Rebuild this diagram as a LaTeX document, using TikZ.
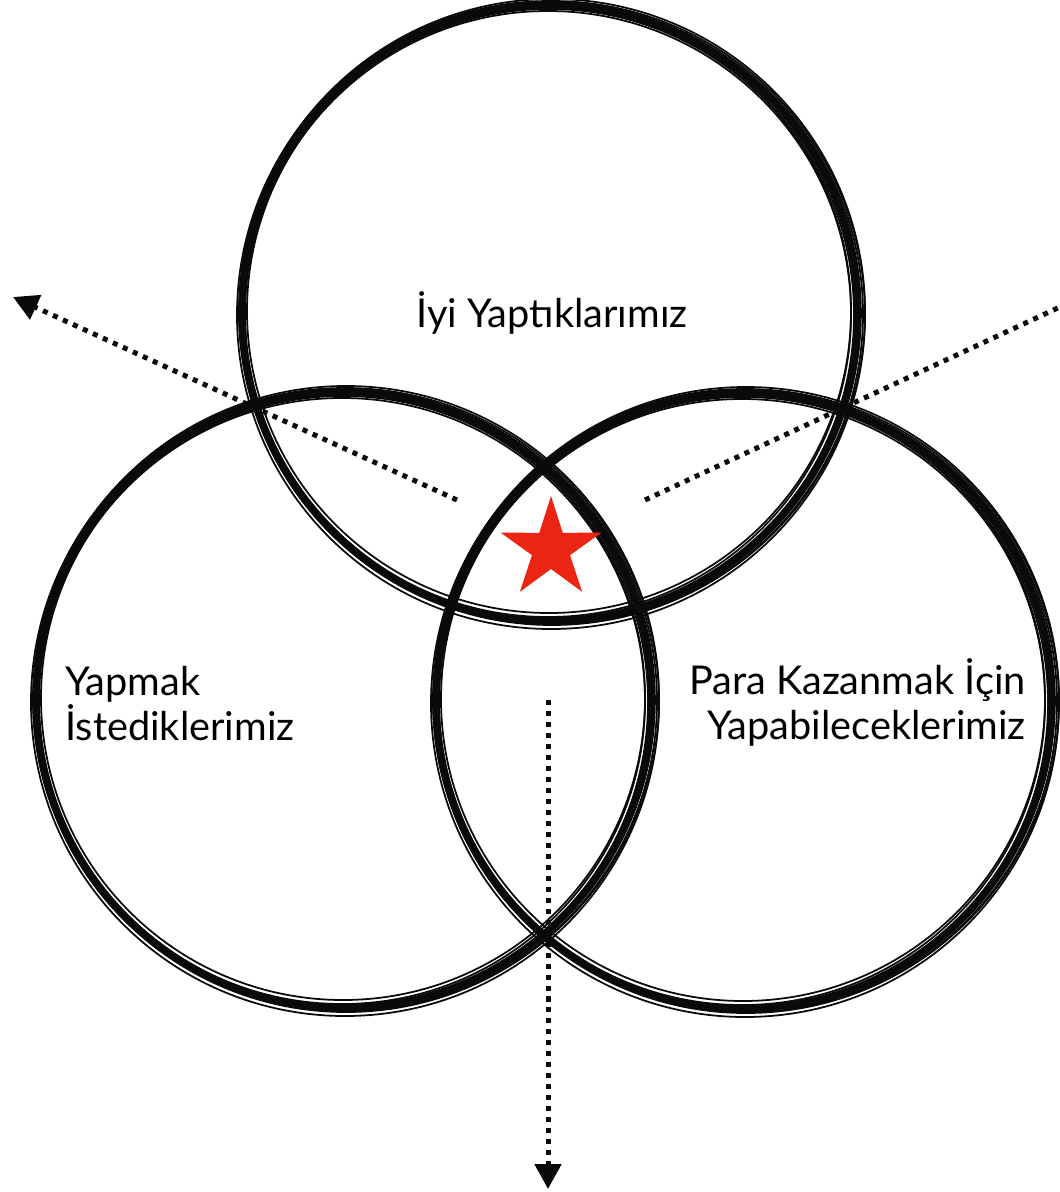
\documentclass[tikz,border=0pt]{standalone}
\usepackage{fontspec}
\setmainfont{Lato}
\usetikzlibrary{arrows.meta,shapes.geometric}
\definecolor{starred}{HTML}{EC2414}
\definecolor{ink}{HTML}{0A0A0A}

\begin{document}
\begin{tikzpicture}[x=0.02cm,y=-0.02cm,
  brush/.style={ink,line width=4.3pt},
  brushthin/.style={ink,line width=1pt},
  dots/.style={ink,line width=2.85pt,dash pattern=on 2.85pt off 3.4pt},
  label/.style={font=\fontsize{22.6}{25.6}\selectfont,inner sep=0pt}]
  \useasboundingbox (0,0) rectangle (1060,1192);

  % three rough circles
  \foreach \cx/\cy in {550/313, 344/700, 744/701}{
    \draw[brush] (\cx,\cy) circle[radius=308];
    \foreach \dx/\dy/\dr in {2/-1/5, -2/1/-5, 1/2/6, -1/-2/-6, 3/1/2, -3/2/-1}
      \draw[brushthin] (\cx+\dx,\cy+\dy) circle[radius=308+\dr];
  }

  % labels
  \node[label,anchor=base] (good) at (552,328) {İyi Yaptıklarımız};
  \node[label,anchor=west,align=left] (want) at (65,704) {Yapmak\\İstediklerimiz};
  \node[label,anchor=east,align=right] (money) at (1026,702) {Para Kazanmak İçin\\Yapabileceklerimiz};

  % star in the middle
  \node[star,star points=5,star point ratio=2.65,minimum size=2.12cm,
        inner sep=0pt,fill=starred] (sweet) at (551,549) {};

  % dotted arrows out of the middle
  \coordinate (lstart) at (457,500);
  \coordinate (lend) at (13,297);
  \coordinate (rstart) at (645,500);
  \coordinate (rend) at (1062,306);
  \coordinate (dstart) at (548,700);
  \coordinate (dend) at (548,1189);
  \draw[dots,-{Triangle[width=14.8pt,length=14.2pt]}] (lstart) -- (lend);
  \draw[dots] (rstart) -- (rend);
  \draw[dots,-{Triangle[width=14.8pt,length=14.2pt]}] (dstart) -- (dend);
\end{tikzpicture}
\end{document}
